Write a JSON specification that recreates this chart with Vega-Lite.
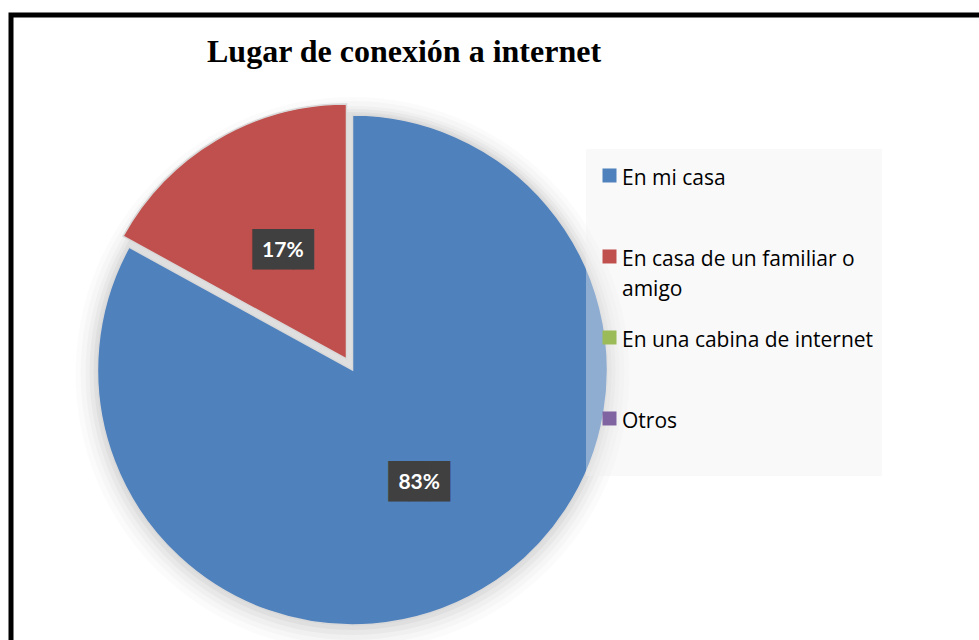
{
  "$schema": "https://vega.github.io/schema/vega-lite/v6.json",
  "width": 968,
  "height": 625,
  "autosize": {"type": "none"},
  "padding": {"left": 11, "top": 15, "right": 0, "bottom": 0},
  "background": "white",
  "title": {
    "text": "Lugar de conexión a internet",
    "font": "Liberation Serif",
    "fontSize": 32,
    "fontWeight": "bold",
    "color": "#000000",
    "anchor": "start",
    "frame": "group",
    "dx": 196,
    "dy": 31,
    "offset": -48,
    "baseline": "alphabetic"
  },
  "data": {
    "values": [
      {"cat": "En mi casa", "value": 0.83, "order": 1},
      {"cat": "En casa de un familiar o amigo", "value": 0.17, "order": 2},
      {"cat": "En una cabina de internet", "value": 0, "order": 3},
      {"cat": "Otros", "value": 0, "order": 4}
    ]
  },
  "layer": [
    {
      "transform": [{"aggregate": [{"op": "count", "as": "n"}]}],
      "mark": {"type": "arc", "x": 341.5, "y": 359, "outerRadius": 277, "fill": "#000000", "opacity": 0.015},
      "encoding": {}
    },
    {
      "transform": [{"aggregate": [{"op": "count", "as": "n"}]}],
      "mark": {"type": "arc", "x": 341.5, "y": 358, "outerRadius": 272, "fill": "#000000", "opacity": 0.02},
      "encoding": {}
    },
    {
      "transform": [{"aggregate": [{"op": "count", "as": "n"}]}],
      "mark": {"type": "arc", "x": 341.5, "y": 358, "outerRadius": 267, "fill": "#000000", "opacity": 0.025},
      "encoding": {}
    },
    {
      "transform": [{"aggregate": [{"op": "count", "as": "n"}]}],
      "mark": {"type": "arc", "x": 341.5, "y": 357, "outerRadius": 263, "fill": "#000000", "opacity": 0.03},
      "encoding": {}
    },
    {
      "transform": [{"aggregate": [{"op": "count", "as": "n"}]}],
      "mark": {"type": "arc", "x": 341.5, "y": 356, "outerRadius": 259, "fill": "#000000", "opacity": 0.035},
      "encoding": {}
    },
    {
      "mark": {"type": "arc", "x": 341.5, "y": 355, "outerRadius": 255, "stroke": "#d9d9d9", "strokeWidth": 1.5},
      "encoding": {
        "theta": {"field": "value", "type": "quantitative", "stack": true},
        "order": {"field": "order", "type": "quantitative"},
        "color": {
          "field": "cat",
          "type": "nominal",
          "scale": {
            "domain": ["En mi casa", "En casa de un familiar o amigo", "En una cabina de internet", "Otros"],
            "range": ["#4f81bd", "#c0504d", "#9bbb59", "#8064a2"]
          },
          "legend": {
            "title": "                                                          ",
            "titleOrient": "bottom",
            "titleFont": "Open Sans",
            "titleFontSize": 20,
            "titleLimit": 400,
            "titlePadding": 16,
            "orient": "none",
            "legendX": 575,
            "legendY": 134,
            "fillColor": "rgba(240,240,240,0.4)",
            "padding": 8,
            "labelFont": "Open Sans",
            "labelFontSize": 21,
            "labelColor": "#000000",
            "labelBaseline": "top",
            "labelLimit": 400,
            "labelOffset": 2,
            "symbolOffset": 5,
            "symbolType": "M-1,0.14H1V2.14H-1Z",
            "symbolSize": 196,
            "symbolStrokeWidth": 0,
            "symbolOpacity": 1,
            "gridAlign": "all",
            "rowPadding": 19,
            "labelExpr": "datum.label === 'En casa de un familiar o amigo' ? ['En casa de un familiar o', 'amigo'] : datum.label"
          }
        },
        "opacity": {"condition": {"test": "datum.cat === 'En mi casa'", "value": 1}, "value": 0}
      }
    },
    {
      "mark": {"type": "arc", "x": 341.5, "y": 355, "xOffset": -6, "yOffset": -11, "outerRadius": 255, "stroke": "#d9d9d9", "strokeWidth": 1.5},
      "encoding": {
        "theta": {"field": "value", "type": "quantitative", "stack": true},
        "order": {"field": "order", "type": "quantitative"},
        "color": {"field": "cat", "type": "nominal"},
        "opacity": {"condition": {"test": "datum.cat === 'En casa de un familiar o amigo'", "value": 1}, "value": 0}
      }
    },
    {
      "mark": {"type": "text", "x": 341.5, "y": 355, "radius": 131, "text": "███", "font": "DejaVu Sans Mono", "fontSize": 34, "color": "#404040", "align": "center", "baseline": "middle"},
      "encoding": {
        "theta": {"field": "value", "type": "quantitative", "stack": true},
        "order": {"field": "order", "type": "quantitative"},
        "opacity": {"condition": {"test": "datum.cat === 'En mi casa'", "value": 1}, "value": 0}
      }
    },
    {
      "mark": {"type": "text", "x": 341.5, "y": 355, "xOffset": -6, "yOffset": -11, "radius": 125, "text": "███", "font": "DejaVu Sans Mono", "fontSize": 34, "color": "#404040", "align": "center", "baseline": "middle"},
      "encoding": {
        "theta": {"field": "value", "type": "quantitative", "stack": true},
        "order": {"field": "order", "type": "quantitative"},
        "opacity": {"condition": {"test": "datum.cat === 'En casa de un familiar o amigo'", "value": 1}, "value": 0}
      }
    },
    {
      "mark": {"type": "text", "x": 341.5, "y": 355, "radius": 131, "font": "Lato", "fontSize": 21, "fontWeight": "bold", "color": "#ffffff", "align": "center", "baseline": "middle"},
      "encoding": {
        "theta": {"field": "value", "type": "quantitative", "stack": true},
        "order": {"field": "order", "type": "quantitative"},
        "text": {"field": "value", "type": "quantitative", "format": ".0%"},
        "opacity": {"condition": {"test": "datum.cat === 'En mi casa'", "value": 1}, "value": 0}
      }
    },
    {
      "mark": {"type": "text", "x": 341.5, "y": 355, "xOffset": -6, "yOffset": -11, "radius": 125, "font": "Lato", "fontSize": 21, "fontWeight": "bold", "color": "#ffffff", "align": "center", "baseline": "middle"},
      "encoding": {
        "theta": {"field": "value", "type": "quantitative", "stack": true},
        "order": {"field": "order", "type": "quantitative"},
        "text": {"field": "value", "type": "quantitative", "format": ".0%"},
        "opacity": {"condition": {"test": "datum.cat === 'En casa de un familiar o amigo'", "value": 1}, "value": 0}
      }
    }
  ],
  "config": {
    "view": {"stroke": "#000000", "strokeWidth": 5, "strokeCap": "square", "strokeDash": [968, 1593, 625, 0]},
    "style": {
      "guide-label": {"lineHeight": 30},
      "view": {"stroke": "#000000", "strokeWidth": 5, "strokeCap": "square", "strokeDash": [968, 1593, 625, 0]}
    }
  }
}
